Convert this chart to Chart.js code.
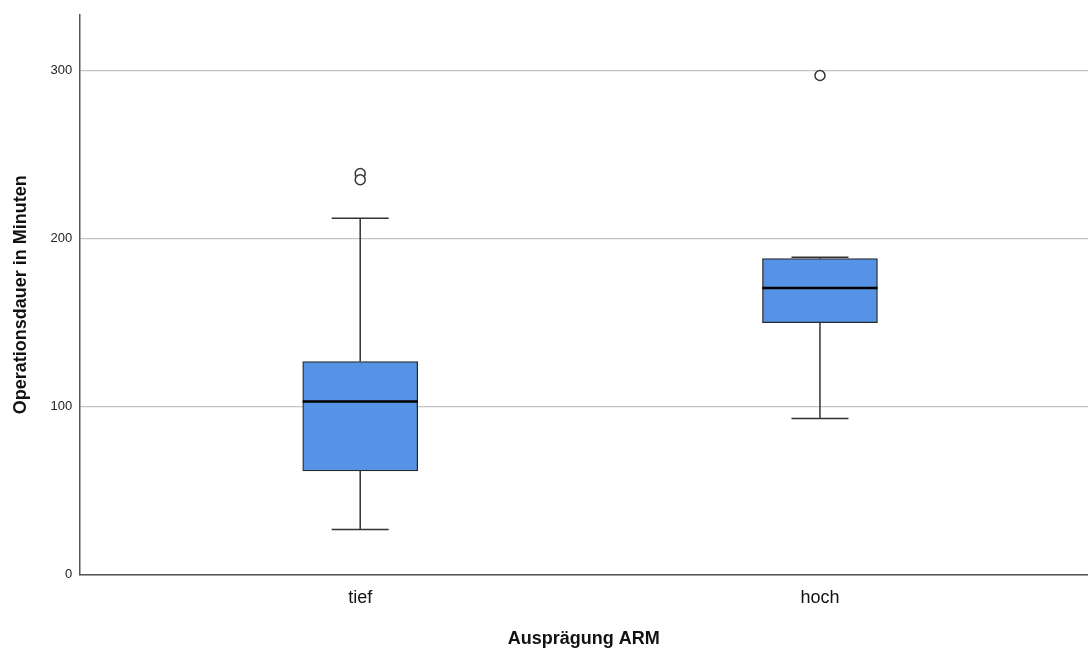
<!DOCTYPE html>
<html lang="de">
<head>
    <meta charset="UTF-8">
    <title>Operationsdauer nach Ausprägung ARM</title>
    <script src="https://cdn.jsdelivr.net/npm/chart.js"></script>
    <style>
        body { margin: 0; background: #fff; font-family: Arial, "Liberation Sans", sans-serif; }
        #wrap { width: 1088px; height: 650px; }
    </style>
</head>
<body>
<div id="wrap"><canvas id="boxChart"></canvas></div>
<script>
    // Werte
    const categories = ["tief", "hoch"];
    const whiskerLow  = [27.0, 92.9];
    const q1          = [61.7, 149.9];
    const median      = [103.1, 170.6];
    const q3          = [126.8, 188.0];
    const whiskerHigh = [212.0, 188.8];
    const outliers    = [[238.6, 234.9], [296.9]];
    const yTicks      = [0, 100, 200, 300];

    const boxData = categories.map((c, i) => ({ x: i + 1, y: [q1[i], q3[i]] }));
    let outlierData = [];
    outliers.forEach((list, i) => list.forEach(v => outlierData.push({ x: i + 1, y: v })));

    // Whisker, Endstriche und Median über die Skalen zeichnen
    const whiskerPlugin = {
        id: "whiskers",
        afterDatasetsDraw(chart) {
            const ctx = chart.ctx;
            const xs = chart.scales.x, ys = chart.scales.y;
            ctx.save();
            categories.forEach((c, i) => {
                let cx = xs.getPixelForValue(i + 1);
                let capHalf = 28.5, boxHalf = 57.5;
                ctx.strokeStyle = "#333";
                ctx.lineWidth = 1.5;
                ctx.beginPath();
                ctx.moveTo(cx, ys.getPixelForValue(whiskerLow[i]));
                ctx.lineTo(cx, ys.getPixelForValue(q1[i]));
                ctx.moveTo(cx, ys.getPixelForValue(q3[i]));
                ctx.lineTo(cx, ys.getPixelForValue(whiskerHigh[i]));
                ctx.moveTo(cx - capHalf, ys.getPixelForValue(whiskerLow[i]));
                ctx.lineTo(cx + capHalf, ys.getPixelForValue(whiskerLow[i]));
                ctx.moveTo(cx - capHalf, ys.getPixelForValue(whiskerHigh[i]));
                ctx.lineTo(cx + capHalf, ys.getPixelForValue(whiskerHigh[i]));
                ctx.stroke();
                ctx.strokeStyle = "#000";
                ctx.lineWidth = 2.5;
                ctx.beginPath();
                ctx.moveTo(cx - boxHalf, ys.getPixelForValue(median[i]));
                ctx.lineTo(cx + boxHalf, ys.getPixelForValue(median[i]));
                ctx.stroke();
            });
            ctx.restore();
        }
    };

    new Chart(document.getElementById("boxChart"), {
        type: "bar",
        data: {
            datasets: [{
                label: "Box",
                data: boxData,
                backgroundColor: "#5693e6",
                borderColor: "#2a2a2a",
                borderWidth: 1.3,
                borderSkipped: false,
                barThickness: 115
            }, {
                type: "scatter",
                label: "Ausreißer",
                data: outlierData,
                pointRadius: 5,
                pointBackgroundColor: "#fff",
                pointBorderColor: "#333",
                pointBorderWidth: 1.5
            }]
        },
        plugins: [whiskerPlugin],
        options: {
            responsive: true,
            maintainAspectRatio: false,
            animation: false,
            layout: { autoPadding: false, padding: { top: 12, right: 0, left: 10, bottom: 0 } },
            plugins: { legend: { display: false }, tooltip: { enabled: false } },
            scales: {
                x: {
                    type: "linear",
                    offset: false,
                    bounds: "ticks",
                    min: 0.389,
                    max: 2.583,
                    afterBuildTicks: axis => { axis.ticks = categories.map((c, i) => ({ value: i + 1 })); },
                    afterFit: axis => { axis.paddingRight = 0; },
                    ticks: {
                        callback: v => categories[v - 1],
                        color: "#111",
                        font: { family: "Arial", size: 18 },
                        padding: 12
                    },
                    grid: { display: false, drawTicks: false },
                    border: { color: "#555", width: 1.5 },
                    title: {
                        display: true,
                        text: "Ausprägung ARM",
                        color: "#111",
                        font: { family: "Arial", size: 18, weight: "bold" },
                        padding: { top: 8, bottom: 0 }
                    }
                },
                y: {
                    min: 0,
                    max: 333,
                    afterBuildTicks: axis => { axis.ticks = yTicks.map(v => ({ value: v })); },
                    ticks: {
                        color: "#222",
                        font: { family: "Arial", size: 13 },
                        padding: 7
                    },
                    grid: { color: "#c4c4c4", lineWidth: 1.3, drawTicks: false },
                    border: { color: "#555", width: 1.5 },
                    title: {
                        display: true,
                        text: "Operationsdauer in Minuten",
                        color: "#111",
                        font: { family: "Arial", size: 18, weight: "bold" },
                        padding: { top: 0, bottom: 12 }
                    }
                }
            }
        }
    });
</script>
</body>
</html>
